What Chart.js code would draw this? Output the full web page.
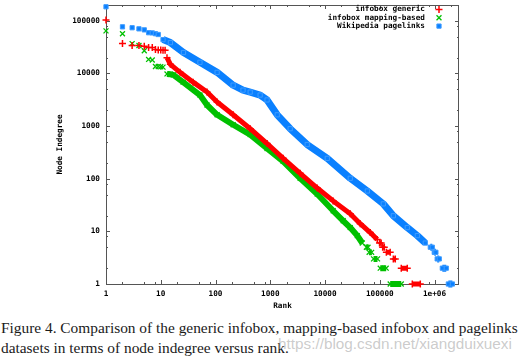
<!DOCTYPE html>
<html><head><meta charset="utf-8">
<script src="https://cdn.jsdelivr.net/npm/chart.js@4.4.0/dist/chart.umd.min.js"></script>
<style>
html,body{margin:0;padding:0;background:#fff;}
body{width:529px;height:361px;position:relative;overflow:hidden;}
#wrap{position:absolute;left:0;top:0;width:529px;height:312px;}
#cap{position:absolute;left:1px;top:318px;font-family:"Liberation Serif","DejaVu Serif",serif;font-size:15px;line-height:20px;color:#1a1a1a;white-space:nowrap;}
#wm{position:absolute;left:278px;top:335px;font-family:"Liberation Sans","DejaVu Sans",sans-serif;font-size:14px;line-height:18px;color:rgba(160,160,160,0.55);white-space:nowrap;}
</style></head><body>
<div id="wrap"><canvas id="c" width="529" height="312"></canvas></div>
<div id="cap"><span id="l1">Figure 4. Comparison of the generic infobox, mapping-based infobox and pagelinks</span><br><span id="l2">datasets in terms of node indegree versus rank.</span></div>
<div id="wm"><span id="wmt">https://blog.csdn.net/xiangduixuexi</span></div>
<script>
// ---------- data (null = break between separate groups of marks) ----------
const seriesLabels = ['infobox generic', 'infobox mapping-based', 'Wikipedia pagelinks'];

const genericRank = [1,null,2,null,3,null,4,null,5,null,6,null,7,null,8,null,9,null,10,null,11,null,12,null,
  13,15,22.5,39,70,107,210,430,875,1720,3520,7200,14100,28900,44000,67000,90000,null,
  99000,106000,null,113000,121000,null,132000,155000,null,177000,192000,null,247000,318000,null,393000,550000];
const genericDeg = [104000,null,37000,null,34000,null,34000,null,33000,null,31000,null,31000,null,28500,null,28000,null,28000,null,27500,null,27500,null,
  20000,14900,10500,6840,4430,2880,1640,893,467,244,127,66.6,37.9,21.6,14,9.5,7,null,
  6,6,null,5,5,null,4,4,null,3,3,null,2,2,null,1,1];

const mappingRank = [1,null,2,null,3,null,4,null,5,null,6,null,7,null,8,null,9,null,10,null,11,null,
  13,15,17,25.6,52,70,107,210,430,875,1720,3520,7200,14100,21500,28900,38800,47900,null,
  57000,61000,null,64000,71000,null,77000,91000,null,102000,131000,null,155000,247000];
const mappingDeg = [64500,null,57000,null,37000,null,34000,null,27000,null,18500,null,18000,null,13600,null,13600,null,13400,null,13200,null,
  9800,9650,9400,6840,3890,2520,1640,1060,689,376,214,102,51.3,24.6,15.9,11.8,8.3,6,null,
  5,5,null,4,4,null,3,3,null,2,2,null,1,1];

const pagelinksRank = [1,null,2,null,3,null,4,null,5,null,6,null,7,null,8,null,9,null,
  11,15,26,52,107,210,318,430,653,875,1340,2310,4730,11000,28900,59300,116000,177000,318000,485000,679000,null,
  838000,910000,null,990000,1060000,null,1120000,1220000,null,1390000,1640000,null,1790000,2120000];
const pagelinksDeg = [185000,null,77000,null,74000,null,70500,null,67400,null,59500,null,59000,null,57000,null,55000,null,
  44000,38600,25000,16300,10500,6000,4830,4430,3890,3140,1640,893,447,244,102,58.5,33.3,19.8,11.8,8.3,6,null,
  5,5,null,4,4,null,3,3,null,2,2,null,1,1];

const xTickValues = [1,10,100,1000,10000,100000,1000000];
const xTickLabels = ['1','10','100','1000','10000','100000','1e+06'];
const yTickValues = [1,10,100,1000,10000,100000];
const yTickLabels = ['1','10','100','1000','10000','100000'];
const xTitle = 'Rank';
const yTitle = 'Node Indegree';

// ---------- chart ----------
const gpFont = {family:'"DejaVu Sans Mono", monospace', size:7.7, weight:'bold'};
function pts(r, d){ return r.map((x,i)=> (x===null||d[i]===null) ? {x:null,y:null} : {x:x,y:d[i]}); }
function mk(label, r, d, color, style, band, radius, pbw, fill, pborder){
  return {label, data:pts(r,d), showLine:true, spanGaps:false, clip:false,
    borderColor:color, borderWidth:band, borderJoinStyle:'round', borderCapStyle:'butt',
    pointStyle:style, pointRadius:radius, pointBorderWidth:pbw,
    pointBorderColor:pborder||color, pointBackgroundColor:fill||color, pointHoverRadius:radius};
}

const frame = {
  id:'gpFrame',
  beforeDatasetsDraw(chart){
    const {ctx, chartArea:a, scales:{x, y}} = chart;
    ctx.save();
    ctx.strokeStyle = '#555'; ctx.lineWidth = 1;
    ctx.strokeRect(a.left+0.5, a.top+0.5, a.right-a.left-1, a.bottom-a.top);
    const minorMult = [2,5,8];
    const tk = (px, len, horiz) => {
      ctx.beginPath();
      if (horiz){
        ctx.moveTo(Math.round(px)+0.5, a.bottom); ctx.lineTo(Math.round(px)+0.5, a.bottom-len);
        ctx.moveTo(Math.round(px)+0.5, a.top); ctx.lineTo(Math.round(px)+0.5, a.top+len);
      } else {
        ctx.moveTo(a.left, Math.round(px)+0.5); ctx.lineTo(a.left+len, Math.round(px)+0.5);
        ctx.moveTo(a.right, Math.round(px)+0.5); ctx.lineTo(a.right-len, Math.round(px)+0.5);
      }
      ctx.stroke();
    };
    for (let k=0;k<=7;k++){
      const base = Math.pow(10,k);
      if (base>=x.min && base<=x.max) tk(x.getPixelForValue(base), 4, true);
      if (base>=y.min && base<=y.max) tk(y.getPixelForValue(base), 4, false);
      minorMult.forEach(m=>{
        const v = m*base;
        if (v>x.min && v<x.max) tk(x.getPixelForValue(v), 2, true);
        if (v>y.min && v<y.max) tk(y.getPixelForValue(v), 2, false);
      });
    }
    ctx.restore();
  }
};

const gpLegend = {
  id:'gpLegend',
  afterDraw(chart){
    const ctx = chart.ctx;
    ctx.save();
    ctx.font = 'bold 7.7px "DejaVu Sans Mono", monospace';
    ctx.textAlign = 'right'; ctx.textBaseline = 'middle';
    chart.data.datasets.forEach((ds,i)=>{
      const yy = 9.5 + 8.3*i;
      ctx.fillStyle = '#000';
      ctx.fillText(ds.label, 425, yy);
      ctx.strokeStyle = ds.pointBorderColor; ctx.fillStyle = ds.pointBackgroundColor;
      ctx.lineWidth = ds.pointBorderWidth;
      Chart.helpers.drawPoint(ctx, {pointStyle:ds.pointStyle, radius:ds.pointRadius, borderWidth:ds.pointBorderWidth, rotation:0}, 439, yy);
    });
    ctx.restore();
  }
};

new Chart(document.getElementById('c'), {
  type:'scatter',
  data:{datasets:[
    mk(seriesLabels[0], genericRank, genericDeg, '#ff0000', 'cross', 5, 3.5, 1.5),
    mk(seriesLabels[1], mappingRank, mappingDeg, '#00c000', 'crossRot', 6, 3.5, 1.3),
    mk(seriesLabels[2], pagelinksRank, pagelinksDeg, '#0a80ff', 'rect', 7, 3, 1, '#0a80ff', '#3f9cff')
  ]},
  options:{
    responsive:false, animation:false, devicePixelRatio:1,
    layout:{padding:{left:0, right:70, top:3, bottom:0}},
    plugins:{legend:{display:false}, tooltip:{enabled:false}},
    events:[],
    scales:{
      x:{type:'logarithmic', min:1, max:2.8e6,
        afterBuildTicks:s=>{ s.ticks = xTickValues.map(v=>({value:v})); },
        afterFit:s=>{ s.height = 28; s.paddingLeft = 0; s.paddingRight = 0; },
        grid:{display:false, drawTicks:false}, border:{display:false},
        ticks:{autoSkip:false, maxRotation:0, minRotation:0, padding:5, font:gpFont, color:'#000',
          callback:(v,i)=> xTickLabels[i]},
        title:{display:true, text:xTitle, font:gpFont, color:'#000', padding:{top:0,bottom:1}}},
      y:{type:'logarithmic', min:1, max:2e5,
        afterBuildTicks:s=>{ s.ticks = yTickValues.map(v=>({value:v})); },
        afterFit:s=>{ s.width = 106; s.paddingTop = 0; s.paddingBottom = 0; },
        grid:{display:false, drawTicks:false}, border:{display:false},
        ticks:{autoSkip:false, padding:6, font:gpFont, color:'#000',
          callback:(v,i)=> yTickLabels[i]},
        title:{display:true, text:yTitle, font:gpFont, color:'#000', padding:{top:55,bottom:0}}}
    }
  },
  plugins:[frame, gpLegend]
});

// fit caption & watermark widths
const l1 = document.getElementById('l1');
const cap = document.getElementById('cap');
const w1 = l1.getBoundingClientRect().width;
cap.style.fontSize = (15*517/w1)+'px';
const wmt = document.getElementById('wmt');
const wm = document.getElementById('wm');
const w2 = wmt.getBoundingClientRect().width;
wm.style.fontSize = (14*234/w2)+'px';
</script>
</body></html>
